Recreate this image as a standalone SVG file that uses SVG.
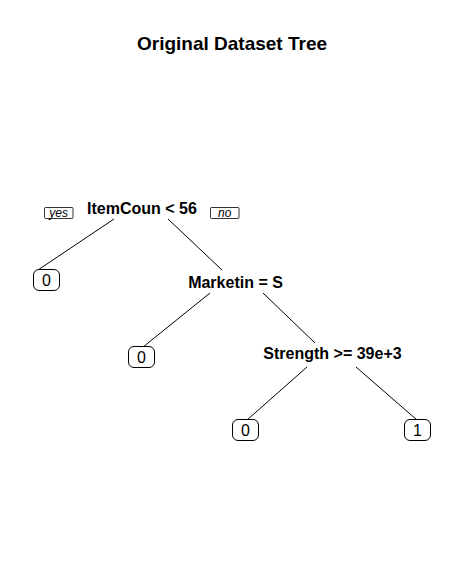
<svg xmlns="http://www.w3.org/2000/svg" width="464" height="582" viewBox="0 0 464 582">
<style>
.t{font-family:"Liberation Sans",Arial,sans-serif;fill:#000}
.title{font-size:19px;font-weight:bold}
.split{font-size:16px;font-weight:bold}
.leaf{font-size:16px}
.yn{font-size:12px;font-style:italic}
.lbox{fill:#fff;stroke:#000;stroke-width:1}
.ynbox{fill:#fff;stroke:#000;stroke-width:0.8}
.edge{stroke:#000;stroke-width:1;fill:none}
</style>
<rect width="464" height="582" fill="#fff"/>
<text class="t title" x="232" y="49.5" text-anchor="middle">Original Dataset Tree</text>
<g id="connectors">
<line class="edge" x1="114" y1="219" x2="38" y2="270"/>
<line class="edge" x1="168" y1="219" x2="222" y2="270"/>
<line class="edge" x1="210" y1="293" x2="143" y2="347"/>
<line class="edge" x1="263" y1="293" x2="315" y2="343"/>
<line class="edge" x1="307" y1="367" x2="247" y2="420"/>
<line class="edge" x1="356" y1="367" x2="417" y2="420"/>
</g>
<g id="yes">
<rect class="ynbox" x="44.5" y="207.5" width="28.5" height="11" rx="1"/>
<text class="t yn" x="58.7" y="216.5" text-anchor="middle">yes</text>
</g>
<g id="no">
<rect class="ynbox" x="210.5" y="207.5" width="28.5" height="11" rx="1"/>
<text class="t yn" x="224.7" y="216.5" text-anchor="middle">no</text>
</g>
<g id="node-root">
<text class="t split" x="142" y="214.3" text-anchor="middle">ItemCoun &lt; 56</text>
</g>
<g id="node-marketin">
<text class="t split" x="235.5" y="288" text-anchor="middle">Marketin = S</text>
</g>
<g id="node-strength">
<text class="t split" x="332.5" y="358.5" text-anchor="middle">Strength &gt;= 39e+3</text>
</g>
<g id="leaf-1">
<rect class="lbox" x="33.5" y="269.5" width="26" height="21" rx="5.5"/>
<text class="t leaf" x="46.5" y="285.8" text-anchor="middle">0</text>
</g>
<g id="leaf-2">
<rect class="lbox" x="128.5" y="346.5" width="26" height="21" rx="5.5"/>
<text class="t leaf" x="141.5" y="362.8" text-anchor="middle">0</text>
</g>
<g id="leaf-3">
<rect class="lbox" x="232.5" y="419.5" width="26" height="21" rx="5.5"/>
<text class="t leaf" x="245.5" y="435.8" text-anchor="middle">0</text>
</g>
<g id="leaf-4">
<rect class="lbox" x="404.5" y="419.5" width="26" height="21" rx="5.5"/>
<text class="t leaf" x="417.5" y="435.8" text-anchor="middle">1</text>
</g>
</svg>
